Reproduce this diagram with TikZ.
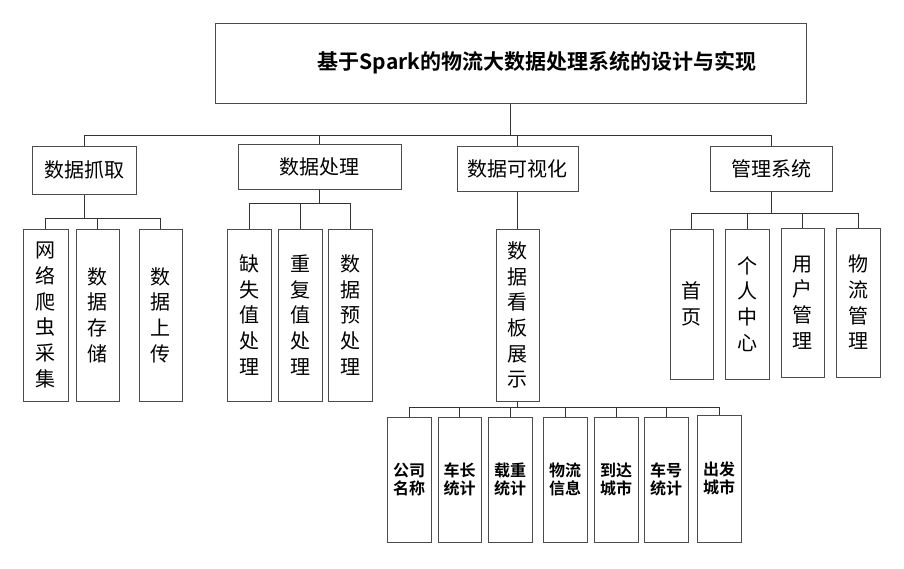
\documentclass[tikz,border=0pt]{standalone}
\usepackage{fontspec}
\setmainfont{Noto Sans CJK SC}[BoldFont={Noto Sans CJK SC Bold}]
\begin{document}
\begin{tikzpicture}[x=1pt,y=-1pt,
  box/.style={draw=black!70, line width=1pt, rectangle, inner sep=0pt, align=center, anchor=center},
  titlebox/.style={box, font=\bfseries\fontsize{21}{24}\selectfont},
  midbox/.style={box, font=\fontsize{20}{24}\selectfont},
  leafbox/.style={box, font=\fontsize{20}{25.7}\selectfont},
  lowbox/.style={box, font=\bfseries\fontsize{16}{18}\selectfont},
  conn/.style={draw=black!80, line width=0.9pt}]
\useasboundingbox (0,0) rectangle (904,568);
% top
\node[titlebox, minimum width=591, minimum height=80] (top) at (510.5,63) {\hspace*{53pt}基于Spark的物流大数据处理系统的设计与实现};
% level 2
\node[midbox, minimum width=104, minimum height=48] (A) at (84,170) {数据抓取};
\node[midbox, minimum width=163, minimum height=45] (B) at (319.5,166.5) {数据处理};
\node[midbox, minimum width=121, minimum height=45] (C) at (517.5,168.5) {数据可视化};
\node[midbox, minimum width=122, minimum height=45] (D) at (771,168.5) {管理系统};
% level 3 under A
\node[leafbox, minimum width=45, minimum height=172] (a1) at (45.5,315) {网\\络\\爬\\虫\\采\\集};
\node[leafbox, minimum width=43, minimum height=172] (a2) at (97.5,315) {数\\据\\存\\储};
\node[leafbox, minimum width=43, minimum height=172] (a3) at (160.5,315) {数\\据\\上\\传};
% under B
\node[leafbox, minimum width=44, minimum height=172] (b1) at (249,315) {缺\\失\\值\\处\\理};
\node[leafbox, minimum width=44, minimum height=172] (b2) at (300,315) {重\\复\\值\\处\\理};
\node[leafbox, minimum width=44, minimum height=172] (b3) at (350,315) {数\\据\\预\\处\\理};
% under C
\node[leafbox, minimum width=43, minimum height=172] (c1) at (517.5,315) {数\\据\\看\\板\\展\\示};
% under D
\node[leafbox, minimum width=43, minimum height=150] (d1) at (691.5,304) {首\\页};
\node[leafbox, minimum width=44, minimum height=150] (d2) at (747,304) {个\\人\\中\\心};
\node[leafbox, minimum width=43, minimum height=149] (d3) at (802.5,302.5) {用\\户\\管\\理};
\node[leafbox, minimum width=44, minimum height=149] (d4) at (858,302.5) {物\\流\\管\\理};
% under c1
\node[lowbox, minimum width=44, minimum height=125] (e1) at (409,479.5) {公司\\名称};
\node[lowbox, minimum width=43, minimum height=125] (e2) at (459.5,479.5) {车长\\统计};
\node[lowbox, minimum width=44, minimum height=125] (e3) at (510,479.5) {载重\\统计};
\node[lowbox, minimum width=44, minimum height=125] (e4) at (565,479.5) {物流\\信息};
\node[lowbox, minimum width=44, minimum height=125] (e5) at (616,479.5) {到达\\城市};
\node[lowbox, minimum width=44, minimum height=125] (e6) at (666,479.5) {车号\\统计};
\node[lowbox, minimum width=44, minimum height=127] (e7) at (719,478.5) {出发\\城市};
% bus coordinates
\coordinate (bus0) at (510.5,135);
\coordinate (busA) at (84,218);
\coordinate (busB) at (319.5,203);
\coordinate (busD) at (771,213);
\coordinate (busC) at (517.5,407);
% connectors
\draw[conn] (top.south) -- (bus0);
\foreach \n in {A,B,C,D} \draw[conn] (\n.north) |- (bus0);
\draw[conn] (A.south) -- (busA);
\foreach \n in {a1,a2,a3} \draw[conn] (\n.north) |- (busA);
\draw[conn] (B.south) -- (busB);
\foreach \n in {b1,b2,b3} \draw[conn] (\n.north) |- (busB);
\draw[conn] (C.south) -- (c1.north);
\draw[conn] (D.south) -- (busD);
\foreach \n in {d1,d2,d3,d4} \draw[conn] (\n.north) |- (busD);
\draw[conn] (c1.south) -- (busC);
\foreach \n in {e1,e2,e3,e4,e5,e6,e7} \draw[conn] (\n.north) |- (busC);
\end{tikzpicture}
\end{document}
